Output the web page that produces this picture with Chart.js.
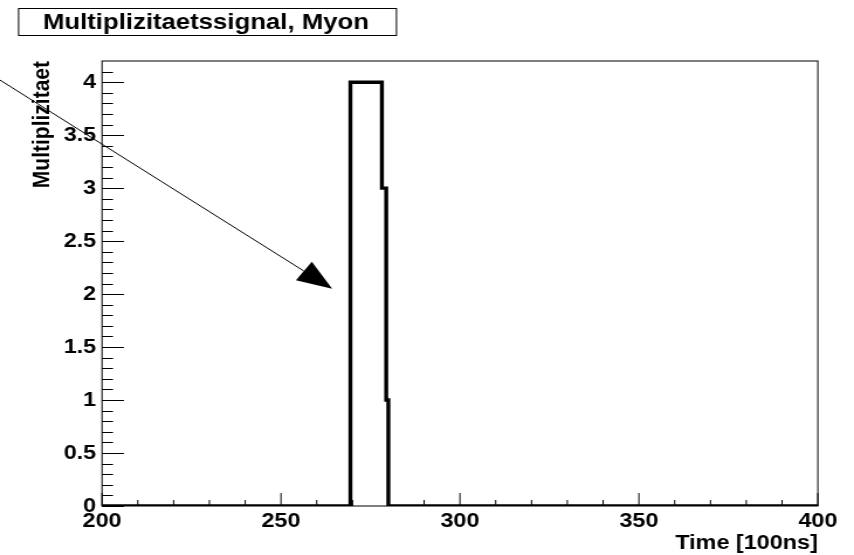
<!DOCTYPE html>
<html>
<head>
<meta charset="utf-8">
<script src="https://cdn.jsdelivr.net/npm/chart.js@4.4.1/dist/chart.umd.min.js"></script>
<style>
html, body { margin: 0; padding: 0; background: #fff; overflow: hidden; }
/* the original canvas is stretched sideways, so is this one */
#wrap { width: 730px; height: 555px; transform: scaleX(1.16986); transform-origin: 0 0; }
</style>
</head>
<body>
<div id="wrap"><canvas id="c" width="730" height="555"></canvas></div>
<script>
var title = 'Multiplizitaetssignal, Myon'
var xTitle = 'Time [100ns]'
var yTitle = 'Multiplizitaet'

// histogram: bin edges and the count in each bin
var binEdges  = [200, 269.4, 278.2, 279.4, 280, 400]
var binCounts = [0, 4, 3, 1, 0]

var xTicks = [200, 250, 300, 350, 400]
var yTicks = [0, 0.5, 1, 1.5, 2, 2.5, 3, 3.5, 4]

// the arrow drawn over the plot, in data units
var arrowFrom = {x: 171.5, y: 4.02}
var arrowTo   = {x: 264.3, y: 2.05}

var FONT = "'Liberation Sans', Arial, Helvetica, sans-serif"

var points = binCounts.map((c, i) => ({x: binEdges[i], y: c}))
points.push({x: binEdges[binEdges.length - 1], y: binCounts[binCounts.length - 1]})

var rootStyle = {
  id: 'rootStyle'
, afterDatasetsDraw: function(chart) {
    var ctx = chart.ctx
    var a = chart.chartArea
    var xs = chart.scales.x
    var ys = chart.scales.y
    ctx.save()
    ctx.strokeStyle = '#000'
    ctx.lineWidth = 1

    // frame
    ctx.strokeRect(a.left, a.top, a.right - a.left, a.bottom - a.top)

    // y ticks, drawn inward
    ctx.beginPath()
    for (var i = 0; i <= 41; i++) {
      var v = i / 10
      var major = i % 5 === 0
      var py = Math.round(ys.getPixelForValue(v)) + 0.5
      ctx.moveTo(a.left, py)
      ctx.lineTo(a.left + (major ? 18.8 : 9.4), py)
    }
    // x ticks
    for (var t = 200; t <= 400; t += 10) {
      var px = xs.getPixelForValue(t)
      ctx.moveTo(px, a.bottom)
      ctx.lineTo(px, a.bottom - (t % 50 === 0 ? 13 : 6))
    }
    ctx.stroke()

    // arrow
    var x0 = xs.getPixelForValue(arrowFrom.x), y0 = ys.getPixelForValue(arrowFrom.y)
    var x1 = xs.getPixelForValue(arrowTo.x),   y1 = ys.getPixelForValue(arrowTo.y)
    var dx = x1 - x0, dy = y1 - y0
    var len = Math.sqrt(dx * dx + dy * dy)
    var ux = dx / len, uy = dy / len
    var L = 30, W = 11.5
    var bx = x1 - ux * L, by = y1 - uy * L
    ctx.beginPath()
    ctx.moveTo(x0, y0)
    ctx.lineTo(bx, by)
    ctx.stroke()
    ctx.beginPath()
    ctx.moveTo(x1, y1)
    ctx.lineTo(bx - uy * W, by + ux * W)
    ctx.lineTo(bx + uy * W, by - ux * W)
    ctx.closePath()
    ctx.fillStyle = '#000'
    ctx.fill()

    // title box
    ctx.fillStyle = '#fff'
    ctx.fillRect(15.4, 8, 323, 27)
    ctx.strokeRect(15.4 + 0.5, 8.5, 323, 27)
    ctx.fillStyle = '#000'
    ctx.font = 'bold 22px ' + FONT
    ctx.textAlign = 'center'
    ctx.textBaseline = 'middle'
    ctx.fillText(title, 176, 23)
    ctx.restore()
  }
}

new Chart(document.getElementById('c'), {
  type: 'line'
, data: {
    datasets: [{
      data: points
    , stepped: 'before'
    , borderColor: '#000'
    , borderWidth: 3.4
    , pointRadius: 0
    , fill: false
    }]
  }
, options: {
    responsive: false
  , animation: false
  , layout: { padding: { top: 61, right: 30.9, left: 0, bottom: 0 } }
  , plugins: { legend: { display: false }, tooltip: { enabled: false } }
  , scales: {
      x: {
        type: 'linear'
      , min: 200
      , max: 400
      , afterBuildTicks: (s) => { s.ticks = xTicks.map((v) => ({value: v})) }
      , afterFit: (s) => { s.height = 49 }
      , grid: { display: false, drawTicks: false }
      , border: { display: false }
      , ticks: { color: '#000', padding: 3, maxRotation: 0, font: { family: FONT, size: 20, weight: 'bold' } }
      , title: {
          display: true, text: xTitle, align: 'end', color: '#000'
        , padding: { top: 0, bottom: 0 }
        , font: { family: FONT, size: 20, weight: 'bold' }
        }
      }
    , y: {
        min: 0
      , max: 4.2
      , afterBuildTicks: (s) => { s.ticks = yTicks.map((v) => ({value: v})) }
      , afterFit: (s) => { s.width = 87.2 }
      , grid: { display: false, drawTicks: false }
      , border: { display: false }
      , ticks: {
          color: '#000', padding: 5
        , font: { family: FONT, size: 20, weight: 'bold' }
        , callback: (v) => String(v)
        }
      , title: {
          display: true, text: yTitle, align: 'end', color: '#000'
        , padding: { top: 24, bottom: 0 }
        , font: { family: FONT, size: 21, weight: 'bold' }
        }
      }
    }
  }
, plugins: [rootStyle]
})
</script>
</body>
</html>
